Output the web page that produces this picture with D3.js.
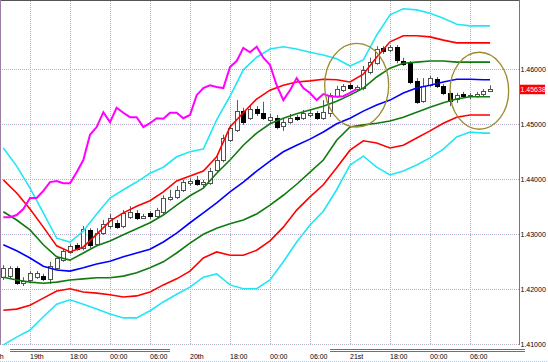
<!DOCTYPE html>
<html>
<head>
<meta charset="utf-8">
<script src="https://cdn.jsdelivr.net/npm/d3@7"></script>
<style>
  body { margin: 0; background: #fff; }
  svg { display: block; }
</style>
</head>
<body>
<svg id="chart" width="548" height="362"></svg>
<script>
// hourly candles, index 0..73
const opens  = [1.4222,1.4224,1.4239,1.4211,1.4217,1.4222,1.4224,1.4219,1.4239,1.4253,1.4268,1.4281,1.4275,1.4308,1.4282,1.4302,1.4315,1.4321,1.4315,1.4331,1.4339,1.4330,1.4339,1.4333,1.4341,1.4364,1.4368,1.4381,1.4393,1.4399,1.4391,1.4393,1.4417,1.4435,1.4471,1.4490,1.4524,1.4511,1.4528,1.4521,1.4508,1.4511,1.4497,1.4504,1.4513,1.4511,1.4517,1.4521,1.4511,1.4521,1.4551,1.4562,1.4571,1.4564,1.4566,1.4595,1.4611,1.4639,1.4635,1.4641,1.4615,1.4611,1.4579,1.4542,1.4571,1.4582,1.4570,1.4557,1.4546,1.4555,1.4551,1.4551,1.4555,1.4561];
const highs  = [1.4244,1.4242,1.4242,1.4222,1.4233,1.4233,1.4228,1.4250,1.4261,1.4273,1.4282,1.4284,1.4315,1.4311,1.4311,1.4326,1.4337,1.4326,1.4344,1.4351,1.4344,1.4337,1.4342,1.4348,1.4371,1.4381,1.4388,1.4399,1.4402,1.4406,1.4399,1.4421,1.4442,1.4481,1.4499,1.4544,1.4530,1.4535,1.4533,1.4541,1.4519,1.4517,1.4511,1.4519,1.4517,1.4526,1.4526,1.4524,1.4544,1.4557,1.4570,1.4573,1.4575,1.4571,1.4606,1.4621,1.4642,1.4642,1.4644,1.4644,1.4621,1.4615,1.4584,1.4584,1.4588,1.4586,1.4573,1.4561,1.4557,1.4559,1.4557,1.4559,1.4564,1.4571];
const lows   = [1.4217,1.4219,1.4208,1.4206,1.4213,1.4219,1.4215,1.4210,1.4235,1.4250,1.4264,1.4270,1.4271,1.4275,1.4279,1.4299,1.4310,1.4310,1.4311,1.4328,1.4326,1.4328,1.4328,1.4330,1.4337,1.4361,1.4364,1.4377,1.4388,1.4388,1.4384,1.4390,1.4413,1.4431,1.4468,1.4486,1.4499,1.4508,1.4515,1.4508,1.4502,1.4491,1.4488,1.4501,1.4506,1.4508,1.4513,1.4508,1.4508,1.4513,1.4548,1.4559,1.4562,1.4561,1.4562,1.4591,1.4608,1.4628,1.4631,1.4611,1.4606,1.4573,1.4537,1.4539,1.4568,1.4566,1.4553,1.4533,1.4539,1.4548,1.4546,1.4548,1.4551,1.4559];
const closes = [1.4239,1.4239,1.4211,1.4215,1.4230,1.4230,1.4219,1.4242,1.4257,1.4270,1.4279,1.4273,1.4310,1.4281,1.4302,1.4319,1.4330,1.4313,1.4339,1.4341,1.4330,1.4333,1.4333,1.4344,1.4366,1.4368,1.4381,1.4395,1.4397,1.4391,1.4395,1.4415,1.4435,1.4475,1.4493,1.4524,1.4504,1.4528,1.4521,1.4511,1.4513,1.4495,1.4504,1.4511,1.4510,1.4521,1.4521,1.4511,1.4522,1.4553,1.4564,1.4570,1.4566,1.4568,1.4599,1.4613,1.4637,1.4633,1.4641,1.4617,1.4610,1.4577,1.4541,1.4570,1.4584,1.4570,1.4557,1.4542,1.4553,1.4551,1.4553,1.4555,1.4561,1.45638];

// bollinger bands, read at every other candle
const bandIdx = [0,2,4,6,8,10,12,14,16,18,20,22,24,26,28,30,32,34,36,38,40,42,44,46,48,50,52,54,56,58,60,62,64,66,68,70,72,73];
const upper3 = [1.4457,1.4424,1.4384,1.4339,1.4293,1.4286,1.4306,1.4337,1.4366,1.4381,1.4395,1.4411,1.4422,1.4441,1.4450,1.4455,1.4508,1.4551,1.4599,1.4622,1.4637,1.4641,1.4637,1.4631,1.4626,1.4619,1.4606,1.4617,1.4662,1.4699,1.4710,1.4708,1.4702,1.4693,1.4682,1.4679,1.4679,1.4679];
const upper2 = [1.4399,1.4375,1.4346,1.4313,1.4279,1.4268,1.4277,1.4300,1.4324,1.4339,1.4351,1.4361,1.4377,1.4397,1.4406,1.4415,1.4441,1.4495,1.4521,1.4546,1.4562,1.4571,1.4577,1.4579,1.4582,1.4581,1.4577,1.4591,1.4622,1.4650,1.4661,1.4661,1.4659,1.4653,1.4648,1.4648,1.4648,1.4648];
const upper1 = [1.4341,1.4326,1.4308,1.4281,1.4259,1.4253,1.4266,1.4279,1.4288,1.4299,1.4310,1.4321,1.4335,1.4353,1.4370,1.4384,1.4411,1.4435,1.4462,1.4484,1.4501,1.4511,1.4519,1.4526,1.4533,1.4542,1.4553,1.4566,1.4586,1.4602,1.4611,1.4613,1.4615,1.4615,1.4613,1.4613,1.4613,1.4613];
const middle = [1.4281,1.4270,1.4257,1.4242,1.4235,1.4233,1.4239,1.4246,1.4251,1.4259,1.4266,1.4273,1.4286,1.4302,1.4321,1.4339,1.4357,1.4377,1.4395,1.4415,1.4433,1.4450,1.4462,1.4473,1.4486,1.4501,1.4511,1.4524,1.4535,1.4544,1.4557,1.4566,1.4571,1.4577,1.4582,1.4582,1.4581,1.4581];
const lower1 = [1.4222,1.4217,1.4213,1.4211,1.4213,1.4217,1.4219,1.4221,1.4221,1.4224,1.4230,1.4239,1.4250,1.4266,1.4284,1.4300,1.4311,1.4319,1.4326,1.4337,1.4353,1.4371,1.4391,1.4413,1.4435,1.4471,1.4495,1.4499,1.4502,1.4506,1.4513,1.4522,1.4531,1.4539,1.4546,1.4550,1.4550,1.4550];
const lower2 = [1.4162,1.4164,1.4171,1.4184,1.4197,1.4201,1.4195,1.4193,1.4190,1.4186,1.4188,1.4195,1.4208,1.4219,1.4233,1.4257,1.4268,1.4262,1.4262,1.4271,1.4288,1.4313,1.4344,1.4368,1.4390,1.4421,1.4453,1.4470,1.4466,1.4457,1.4462,1.4475,1.4488,1.4502,1.4513,1.4517,1.4517,1.4517];
const lower3 = [1.4099,1.4113,1.4126,1.4150,1.4173,1.4181,1.4173,1.4164,1.4155,1.4148,1.4148,1.4161,1.4177,1.4191,1.4204,1.4222,1.4228,1.4208,1.4201,1.4201,1.4217,1.4250,1.4286,1.4317,1.4342,1.4381,1.4426,1.4442,1.4422,1.4408,1.4415,1.4426,1.4439,1.4455,1.4477,1.4486,1.4484,1.4484];

// lagging span, candles 0..53
const lagging = [1.4331,1.4331,1.4335,1.4346,1.4366,1.4366,1.4379,1.4395,1.4397,1.4393,1.4393,1.4413,1.4435,1.4481,1.4495,1.4522,1.4504,1.4530,1.4521,1.4513,1.4513,1.4495,1.4502,1.4511,1.4510,1.4521,1.4521,1.4511,1.4517,1.4553,1.4566,1.4571,1.4568,1.4566,1.4604,1.4615,1.4639,1.4631,1.4641,1.4621,1.4608,1.4571,1.4544,1.4562,1.4584,1.4566,1.4557,1.4544,1.4555,1.4551,1.4550,1.4551,1.4557,1.4564];

const priceTicks = [1.41, 1.42, 1.43, 1.44, 1.45, 1.46];
const timeTickIdx = [-2, 4, 10, 16, 22, 28, 34, 40, 46, 52, 58, 64, 70];
const timeTickLabels = ["18th", "19th", "18:00", "00:00", "06:00", "20th", "18:00", "00:00", "06:00", "21st", "18:00", "00:00", "06:00"];
const lastPrice = 1.45638;

// circled areas (candle index / price)
const circleIdx = [53, 71.4];
const circlePrice = [1.4571, 1.4561];
const circleHalfIdx = [4.8, 4.4];
const circleHalfPrice = [0.0076, 0.0070];

const svg = d3.select("#chart");
const plotRight = 519.5, plotBottom = 345;
const labelFont = "Liberation Sans, Arial, sans-serif";

const x = d3.scaleLinear().domain([-0.5, 77.5]).range([0, 520]);
const y = d3.scaleLinear().domain([1.41, 1.46]).range([344.3, 69.3]);

// grid (two-colour dotted like MT4)
const grid = svg.append("g");
function dotted(x1, y1, x2, y2) {
    grid.append("line").attr("x1", x1).attr("y1", y1).attr("x2", x2).attr("y2", y2)
        .attr("stroke", "#e4a4e0").attr("stroke-dasharray", "1,3");
    grid.append("line").attr("x1", x1).attr("y1", y1).attr("x2", x2).attr("y2", y2)
        .attr("stroke", "#8fbcbc").attr("stroke-dasharray", "1,3").attr("stroke-dashoffset", 2);
}
priceTicks.forEach(p => {
    const yy = Math.round(y(p)) + 0.5;
    dotted(0, yy, plotRight, yy);
});
timeTickIdx.filter(i => i >= 0).forEach(i => {
    const xx = Math.round(x(i)) + 0.5;
    dotted(xx, 1, xx, plotBottom);
});

// frame
svg.append("line").attr("x1", 0).attr("y1", 0.5).attr("x2", plotRight).attr("y2", 0.5).attr("stroke", "#555");
svg.append("line").attr("x1", 0.5).attr("y1", 0).attr("x2", 0.5).attr("y2", plotBottom).attr("stroke", "#9a7fa6");
svg.append("line").attr("x1", plotRight).attr("y1", 0).attr("x2", plotRight).attr("y2", plotBottom).attr("stroke", "#6a7a7a");

// candles
const candles = d3.range(opens.length).map(i => ({ i, o: opens[i], h: highs[i], l: lows[i], c: closes[i] }));
const cg = svg.append("g");
candles.forEach(d => {
    const cx = Math.round(x(d.i)) + 0.5;
    const up = d.c >= d.o;
    cg.append("line")
        .attr("x1", cx).attr("x2", cx)
        .attr("y1", y(d.h)).attr("y2", y(d.l))
        .attr("stroke", "#5a5a5a");
    const top = Math.round(y(Math.max(d.o, d.c))) + 0.5;
    const bot = Math.round(y(Math.min(d.o, d.c))) + 0.5;
    cg.append("rect")
        .attr("x", cx - 2).attr("y", top)
        .attr("width", 4).attr("height", Math.max(1, bot - top))
        .attr("fill", up ? "#fff" : "#000")
        .attr("stroke", up ? "#505050" : "#000");
});

// bands
const bands = [
    { vals: upper3, color: "#22e6f6" },
    { vals: lower3, color: "#22e6f6" },
    { vals: upper2, color: "#ff0000" },
    { vals: lower2, color: "#ff0000" },
    { vals: upper1, color: "#107a10" },
    { vals: lower1, color: "#107a10" },
    { vals: middle, color: "#0000ff" }
];
const bandLine = d3.line().x((d, i) => x(bandIdx[i])).y(d => y(d));
bands.forEach(b => {
    svg.append("path")
        .attr("d", bandLine(b.vals))
        .attr("fill", "none")
        .attr("stroke", b.color)
        .attr("stroke-width", 1.6);
});

// lagging span
svg.append("path")
    .attr("d", d3.line().x((d, i) => x(i)).y(d => y(d))(lagging))
    .attr("fill", "none")
    .attr("stroke", "#ff00ff")
    .attr("stroke-width", 2);

// circles
circleIdx.forEach((ci, k) => {
    const cx = x(ci), cy = y(circlePrice[k]);
    svg.append("ellipse")
        .attr("cx", cx).attr("cy", cy)
        .attr("rx", x(ci + circleHalfIdx[k]) - cx)
        .attr("ry", y(circlePrice[k] - circleHalfPrice[k]) - cy)
        .attr("fill", "none")
        .attr("stroke", "#9c8a2c")
        .attr("stroke-width", 1.3);
});

// price axis
const yAxis = d3.axisRight(y).tickValues(priceTicks).tickSize(0).tickPadding(1).tickFormat(d3.format(".5f"));
const ya = svg.append("g").attr("transform", `translate(${plotRight},0)`).call(yAxis);
ya.select(".domain").remove();
ya.selectAll("text")
    .attr("fill", "#000")
    .style("font-family", labelFont)
    .style("font-size", "7px");

// last price marker
svg.append("rect")
    .attr("x", plotRight + 0.5).attr("y", y(lastPrice) - 4.5)
    .attr("width", 25).attr("height", 9.5)
    .attr("fill", "#ff0000");
svg.append("text")
    .attr("x", plotRight + 1).attr("y", y(lastPrice) + 2.6)
    .attr("fill", "#e8ffff")
    .style("font-family", labelFont)
    .style("font-size", "7px")
    .text(d3.format(".5f")(lastPrice));

// time axis
const xAxis = d3.axisBottom(x).tickValues(timeTickIdx).tickSize(0).tickPadding(0)
    .tickFormat((d, i) => timeTickLabels[i]);
const xa = svg.append("g").attr("transform", `translate(0,${plotBottom})`).call(xAxis);
xa.select(".domain").remove();
xa.selectAll("text")
    .attr("text-anchor", "start")
    .attr("dx", -0.5)
    .attr("y", 13.5)
    .attr("dy", 0)
    .attr("fill", "#000")
    .style("font-family", labelFont)
    .style("font-size", "7px");

// scroll separators under the time axis
[[10, 170], [330, 525]].forEach(([a, b]) => {
    [349.5, 351.5].forEach(yy => {
        svg.append("line").attr("x1", a).attr("x2", b).attr("y1", yy).attr("y2", yy)
            .attr("stroke", "#707070");
    });
});
svg.append("line").attr("x1", 0).attr("x2", 548).attr("y1", 361.5).attr("y2", 361.5)
    .attr("stroke", "#b8cce0").attr("stroke-dasharray", "1,1");
</script>
</body>
</html>
